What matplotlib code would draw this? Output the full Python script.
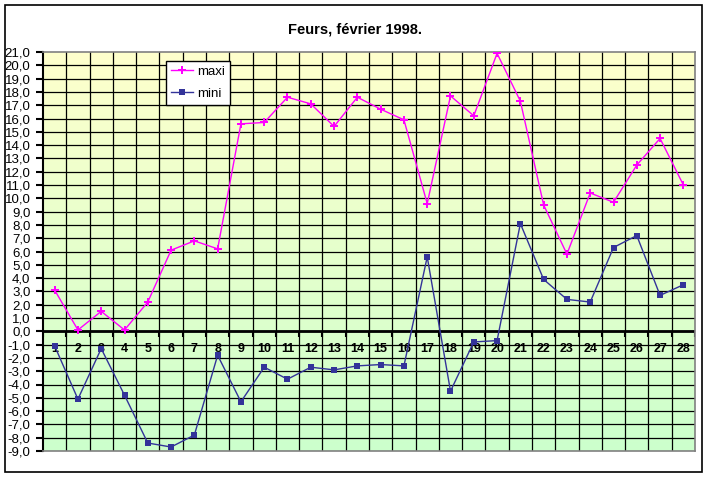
import numpy as np
import matplotlib
matplotlib.use("Agg")
import matplotlib.pyplot as plt
from matplotlib.patches import Rectangle
from matplotlib.ticker import FuncFormatter

days = list(range(1, 29))
maxi = [3.1, 0.1, 1.5, 0.1, 2.2, 6.1, 6.8, 6.2, 15.6, 15.7, 17.6, 17.1, 15.4, 17.6,
        16.7, 15.9, 9.6, 17.7, 16.2, 20.9, 17.3, 9.5, 5.8, 10.4, 9.7, 12.5, 14.5, 11.0]
mini = [-1.1, -5.1, -1.3, -4.8, -8.4, -8.7, -7.8, -1.8, -5.3, -2.7, -3.6, -2.7, -2.9, -2.6,
        -2.5, -2.6, 5.6, -4.5, -0.8, -0.7, 8.1, 3.9, 2.4, 2.2, 6.3, 7.2, 2.7, 3.5]
title = "Feurs, février 1998."
series_names = ["maxi", "mini"]

plt.rcParams['font.family'] = ['Liberation Sans', 'DejaVu Sans']

W, H = 713, 478
fig = plt.figure(figsize=(W / 100, H / 100), dpi=100)
fig.patch.set_facecolor("white")

# outer border
fig.add_artist(Rectangle((5 / W, 1 - 472 / H), (702 - 5) / W, (472 - 5) / H,
                         transform=fig.transFigure, fill=False, edgecolor="black", lw=1.2))

left, right, top, bottom = 43, 695, 52, 451
ax = fig.add_axes([left / W, 1 - bottom / H, (right - left) / W, (bottom - top) / H])

ymin, ymax = -9, 21
xmin, xmax = 0.5, len(days) + 0.5
ax.set_xlim(xmin, xmax)
ax.set_ylim(ymin, ymax)

# gradient background
grad = np.linspace(0, 1, 256).reshape(-1, 1)
c_top = np.array([255, 255, 204]) / 255
c_bot = np.array([204, 255, 204]) / 255
img = c_top[None, None, :] * (1 - grad[:, :, None]) + c_bot[None, None, :] * grad[:, :, None]
ax.imshow(img, extent=[xmin, xmax, ymin, ymax], aspect="auto", origin="upper", zorder=0)

# grid
for yv in range(ymin + 1, ymax):
    ax.axhline(yv, color="black", lw=0.9, zorder=1)
for i in range(1, len(days)):
    ax.axvline(i + 0.5, color="black", lw=0.9, zorder=1)

# zero axis
ax.axhline(0, color="black", lw=2.0, zorder=2)
for i in range(0, len(days) + 1):
    ax.plot([i + 0.5, i + 0.5], [0, -0.4], color="black", lw=1.5, zorder=2,
            solid_capstyle="butt")
for d in days:
    ax.text(d, -1.3, str(d), ha="center", va="center", fontsize=9, fontweight="bold",
            zorder=3)

ax.plot(days, maxi, color="#FF00FF", lw=1, marker="P", markersize=6,
        markeredgewidth=0, label=series_names[0], zorder=4)
ax.plot(days, mini, color="#333399", lw=1, marker="s", markersize=4,
        markeredgewidth=0, label=series_names[1], zorder=4)

ax.set_xticks([])
ax.set_yticks(np.arange(ymin, ymax + 1, 1))
ax.yaxis.set_major_formatter(FuncFormatter(lambda v, p: f"{v:.1f}".replace(".", ",")))
ax.tick_params(axis="y", direction="out", length=5, width=1.5, pad=4, labelsize=9.5)

for s in ["top", "right", "bottom"]:
    ax.spines[s].set_color("#808080")
    ax.spines[s].set_linewidth(1.2)
ax.spines["left"].set_color("black")
ax.spines["left"].set_linewidth(1.5)

leg = ax.legend(loc="upper left", bbox_to_anchor=((166 - left) / (right - left),
                                                  1 - (61 - top) / (bottom - top)),
                frameon=True, fancybox=False, fontsize=9.5, handlelength=1.7,
                borderpad=0.35, labelspacing=0.75, handletextpad=0.3, borderaxespad=0)
leg.get_frame().set_edgecolor("black")
leg.get_frame().set_linewidth(1)
leg.get_frame().set_facecolor("white")
leg.get_frame().set_alpha(1)

fig.text(355 / W, 1 - 30 / H, title, ha="center", va="center", fontsize=10.5,
         fontweight="bold")

fig.savefig("out.png", dpi=100)
